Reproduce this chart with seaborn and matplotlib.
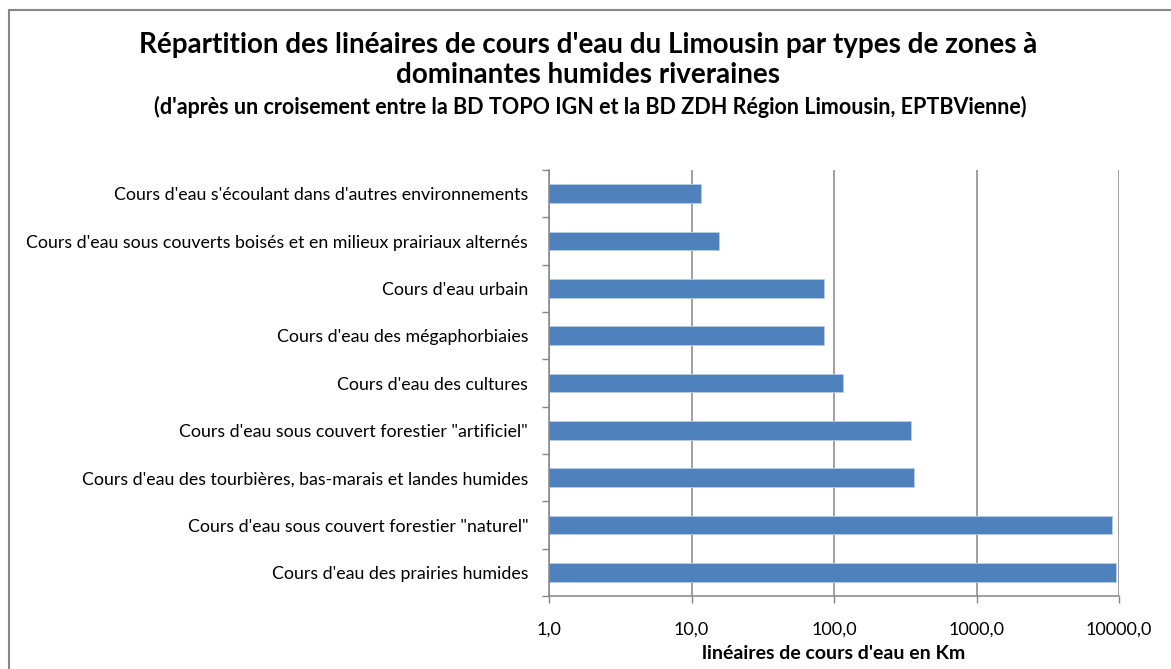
import numpy as np
import pandas as pd
import seaborn as sns
import matplotlib
matplotlib.use("Agg")
import matplotlib.pyplot as plt
from matplotlib.patches import Rectangle
from matplotlib.ticker import FixedLocator, NullFormatter

categories = [
    "Cours d'eau s'écoulant dans d'autres environnements",
    "Cours d'eau sous couverts boisés et en milieux prairiaux alternés",
    "Cours d'eau urbain",
    "Cours d'eau des mégaphorbiaies",
    "Cours d'eau des cultures",
    "Cours d'eau sous couvert forestier \"artificiel\"",
    "Cours d'eau des tourbières, bas-marais et landes humides",
    "Cours d'eau sous couvert forestier \"naturel\"",
    "Cours d'eau des prairies humides",
]
values_km = [11.6, 15.7, 85.2, 85.2, 115.6, 346.0, 365.0, 8860.0, 9530.0]
x_ticks = [1, 10, 100, 1000, 10000]
x_tick_labels = ["1,0", "10,0", "100,0", "1000,0", "10000,0"]

title_line1 = "Répartition des linéaires de cours d'eau du Limousin par types de zones à"
title_line2 = "dominantes humides riveraines"
subtitle = "(d'après un croisement entre la BD TOPO IGN et la BD ZDH Région Limousin, EPTBVienne)"
xlabel = "linéaires de cours d'eau en Km"

df = pd.DataFrame({"cat": categories, "val": values_km})

sns.set_theme(style="white")
plt.rcParams['font.family'] = ['Lato', 'DejaVu Sans']
plt.rcParams['text.color'] = 'black'
plt.rcParams['axes.labelcolor'] = 'black'

W, H = 1171, 669
fig = plt.figure(figsize=(W / 100, H / 100), dpi=100)
ax = fig.add_axes([549 / W, 1 - 596 / H, (1119 - 549) / W, (596 - 170) / H])
ax.set_xscale("log")

sns.barplot(data=df, x="val", y="cat", orient="h", color="#4F81BD",
            saturation=1, width=0.4, edgecolor="#B9CDE5", linewidth=0.6, ax=ax)

ax.set_xlim(1, 10000)
ax.set_ylim(len(categories) - 0.5, -0.5)
ax.xaxis.set_major_locator(FixedLocator(x_ticks))
ax.set_xticklabels(x_tick_labels)
ax.xaxis.set_minor_formatter(NullFormatter())
ax.xaxis.set_minor_locator(FixedLocator([]))
ax.grid(axis="x", color="#868686", linewidth=1.1)
ax.set_axisbelow(True)

ax.set_yticks(range(len(categories)))
ax.set_yticklabels(categories)
ax.yaxis.set_minor_locator(FixedLocator(np.arange(-0.5, len(categories), 1.0)))
ax.tick_params(axis="y", which="major", length=0, pad=15, labelsize=12.8, labelcolor="#000000")
ax.tick_params(axis="y", which="minor", length=5, width=1, color="#868686", left=True)
ax.tick_params(axis="x", which="major", length=5, width=1, color="#868686", bottom=True,
               labelsize=13, pad=13.5, labelcolor="#000000")

for s in ["top", "right"]:
    ax.spines[s].set_visible(False)
for s in ["left", "bottom"]:
    ax.spines[s].set_color("#868686")
    ax.spines[s].set_linewidth(1.1)

ax.set_xlabel(xlabel, fontsize=14, fontweight="bold", labelpad=5, color="black")
ax.set_ylabel("")

fig.text(588 / W, 1 - 45 / H, title_line1, ha="center", va="center", fontsize=20,
         fontweight="bold", color="black")
fig.text(588 / W, 1 - 75 / H, title_line2, ha="center", va="center", fontsize=20,
         fontweight="bold", color="black")
fig.text(590 / W, 1 - 107 / H, subtitle, ha="center", va="center", fontsize=15.5,
         fontweight="bold", color="black")

fig.patches.append(Rectangle((8.5 / W, -0.2), 1.2, 1.2 - 9.5 / H,
                             transform=fig.transFigure, fill=False,
                             edgecolor="#868686", linewidth=1.5))

fig.savefig("out.png", dpi=100, facecolor="white")
